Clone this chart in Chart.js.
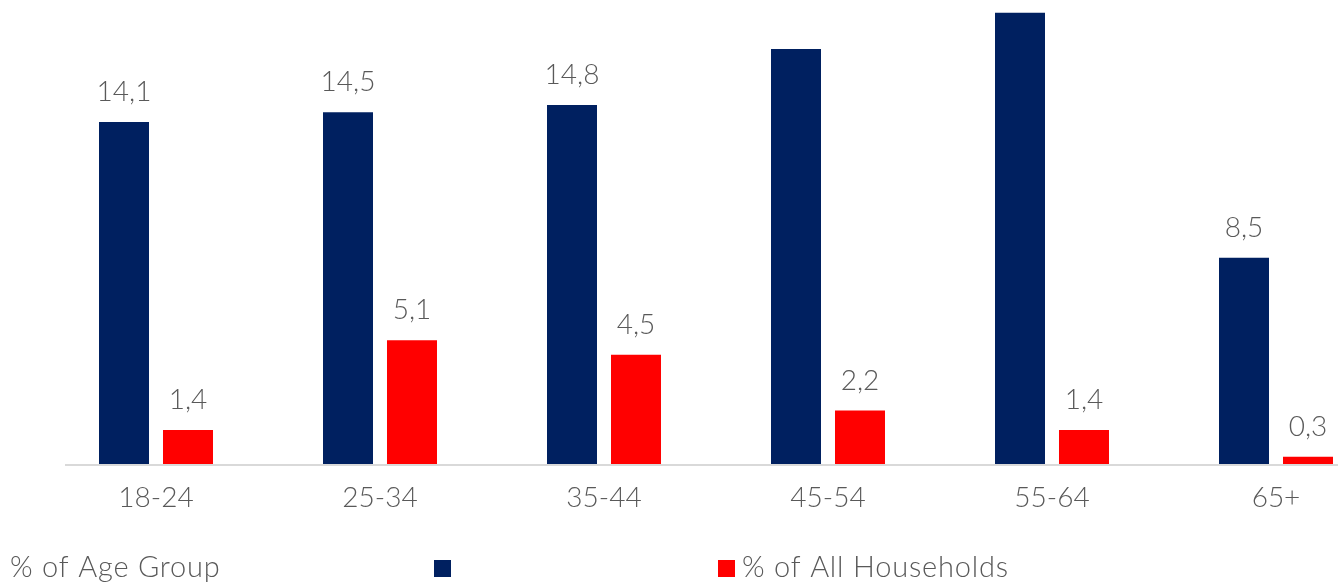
<!DOCTYPE html>
<html>
<head>
<meta charset="utf-8">
<script src="https://cdn.jsdelivr.net/npm/chart.js@4/dist/chart.umd.min.js"></script>
<style>
  html, body { margin: 0; padding: 0; background: #ffffff; overflow: hidden; }
  #wrap { position: relative; width: 1338px; height: 585px; overflow: hidden; }
  canvas { position: absolute; left: 0; top: 0; }
</style>
</head>
<body>
<div id="wrap"><canvas id="chart" width="1388" height="585"></canvas></div>
<script>
// Age bands on the category axis
const categories = ['18-24', '25-34', '35-44', '45-54', '55-64', '65+'];
// Share of each age group (%)
const ageGroupShare = [14.1, 14.5, 14.8, 17.1, 18.6, 8.5];
// Share of all households (%)
const householdShare = [1.4, 5.1, 4.5, 2.2, 1.4, 0.3];
// Which bars carry a value label
const ageGroupLabelShown = [true, true, true, false, false, true];
const householdLabelShown = [true, true, true, true, true, true];
const seriesNames = ['% of Age Group', '% of All Households'];

const NAVY = '#002060';
const RED = '#FF0000';
const TEXT = '#595959';
const FONT_FAMILY = 'Lato, "Open Sans", "DejaVu Sans", sans-serif';
const FONT_WEIGHT = '300';
const FONT_SIZE = 28;

const fmt = v => v.toFixed(1).replace('.', ',');

// Baseline under the bars
const baselinePlugin = {
  id: 'baseline',
  beforeDatasetsDraw(chart) {
    const ctx = chart.ctx;
    const y = chart.scales.y.getPixelForValue(0) + 1;
    ctx.save();
    ctx.strokeStyle = '#d9d9d9';
    ctx.lineWidth = 2;
    ctx.beginPath();
    ctx.moveTo(65, y);
    ctx.lineTo(chart.width, y);
    ctx.stroke();
    ctx.restore();
  }
};

// Value labels above the bars
const valueLabelPlugin = {
  id: 'valueLabels',
  afterDatasetsDraw(chart) {
    const ctx = chart.ctx;
    const shown = [ageGroupLabelShown, householdLabelShown];
    ctx.save();
    ctx.font = FONT_WEIGHT + ' ' + FONT_SIZE + 'px ' + FONT_FAMILY;
    ctx.fillStyle = TEXT;
    ctx.textAlign = 'center';
    ctx.textBaseline = 'alphabetic';
    chart.data.datasets.forEach((ds, di) => {
      const meta = chart.getDatasetMeta(di);
      meta.data.forEach((bar, i) => {
        if (!shown[di][i]) return;
        ctx.fillText(fmt(ds.data[i]), bar.x, bar.y - 21);
      });
    });
    ctx.restore();
  }
};

// Legend row along the bottom
const legendPlugin = {
  id: 'bottomLegend',
  afterDraw(chart) {
    const ctx = chart.ctx;
    const ds = chart.data.datasets;
    const baseY = 577;
    ctx.save();
    ctx.font = FONT_WEIGHT + ' 29px ' + FONT_FAMILY;
    ctx.letterSpacing = '0.8px';
    ctx.fillStyle = TEXT;
    ctx.textAlign = 'left';
    ctx.textBaseline = 'alphabetic';
    ctx.fillText(ds[0].label, 10, baseY);
    ctx.fillStyle = ds[0].backgroundColor;
    ctx.fillRect(434, 560, 17, 17);
    ctx.fillStyle = ds[1].backgroundColor;
    ctx.fillRect(718, 560, 17, 17);
    ctx.fillStyle = TEXT;
    ctx.fillText(ds[1].label, 742, baseY);
    ctx.restore();
  }
};

new Chart(document.getElementById('chart'), {
  type: 'bar',
  data: {
    labels: categories,
    datasets: [
      {
        label: seriesNames[0],
        data: ageGroupShare,
        backgroundColor: NAVY,
        categoryPercentage: 0.5714,
        barPercentage: 0.78125
      },
      {
        label: seriesNames[1],
        data: householdShare,
        backgroundColor: RED,
        categoryPercentage: 0.5714,
        barPercentage: 0.78125
      }
    ]
  },
  options: {
    responsive: false,
    animation: false,
    events: [],
    layout: { padding: { left: 44, right: 0, top: 3, bottom: 0 } },
    plugins: {
      legend: { display: false },
      tooltip: { enabled: false },
      title: { display: false }
    },
    scales: {
      x: {
        grid: { display: false, drawTicks: false },
        border: { display: false },
        ticks: {
          color: TEXT,
          padding: 17,
          maxRotation: 0,
          autoSkip: false,
          font: { family: FONT_FAMILY, size: FONT_SIZE, weight: FONT_WEIGHT }
        },
        afterFit(scale) { scale.height = 121; }
      },
      y: {
        display: false,
        min: 0,
        max: 19
      }
    }
  },
  plugins: [baselinePlugin, valueLabelPlugin, legendPlugin]
});
</script>
</body>
</html>
